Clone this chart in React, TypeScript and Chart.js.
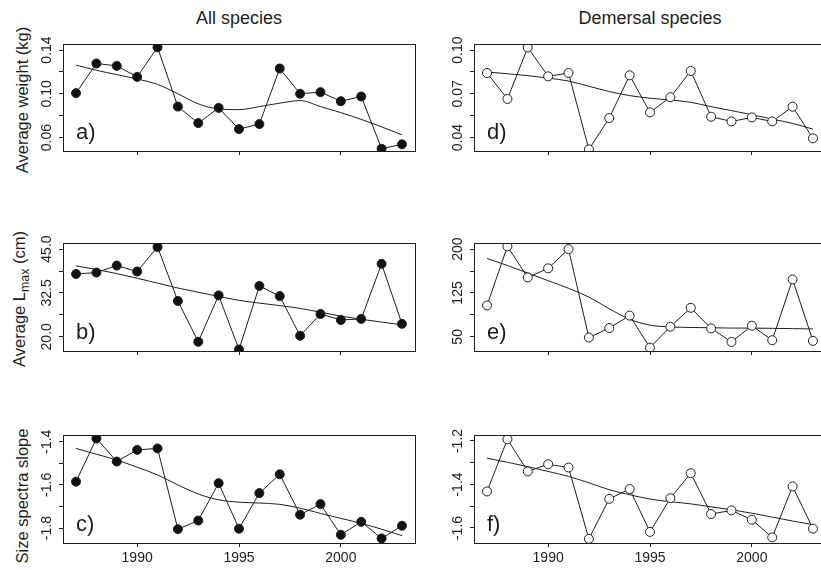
import React, { useEffect, useRef } from "react";
import { Chart, registerables } from "chart.js";

Chart.register(...registerables);

const FONT = '"Liberation Sans", Arial, Helvetica, sans-serif';
const INK = "#1e1e1e";

// ---------- data ----------
const years = [1987, 1988, 1989, 1990, 1991, 1992, 1993, 1994, 1995, 1996, 1997, 1998, 1999, 2000, 2001, 2002, 2003];
const xTickYears = [1990, 1995, 2000];

const allWeight = [0.1006, 0.1277, 0.1255, 0.1154, 0.1425, 0.0883, 0.0732, 0.0871, 0.0677, 0.0723, 0.1231, 0.1, 0.1015, 0.0932, 0.0975, 0.0498, 0.0538];
const allWeightSmooth = [0.1262, 0.1215, 0.1175, 0.1135, 0.1086, 0.1, 0.0908, 0.0862, 0.0855, 0.0883, 0.0914, 0.0938, 0.0883, 0.0828, 0.0766, 0.0698, 0.0625];
const demWeight = [0.0843, 0.0665, 0.1018, 0.082, 0.0843, 0.0319, 0.0534, 0.0827, 0.0573, 0.0677, 0.0857, 0.0543, 0.0511, 0.0538, 0.0511, 0.0612, 0.0395];
const demWeightSmooth = [0.085, 0.0838, 0.0825, 0.0808, 0.0788, 0.0752, 0.0716, 0.0688, 0.067, 0.0658, 0.0642, 0.0612, 0.0585, 0.0557, 0.0527, 0.0497, 0.0458];

const allLmax = [37.9, 38.3, 40.3, 38.6, 45.6, 30.2, 18.6, 31.8, 16.4, 34.5, 31.6, 20.3, 26.5, 24.8, 25.1, 40.8, 23.7];
const allLmaxSmooth = [40.2, 39.2, 38.0, 36.7, 35.3, 33.9, 32.7, 31.5, 30.4, 29.6, 28.9, 28.1, 27.0, 25.9, 25.0, 24.2, 23.4];
const demLmax = [103.7, 204.6, 151.5, 167.1, 200, 48.8, 65, 86.3, 31.5, 67.3, 99.6, 64.4, 41.3, 69, 44.2, 148.1, 43.1];
const demLmaxSmooth = [184, 172, 159, 146, 133, 118, 98, 80, 70, 67, 66, 65.5, 65, 65, 64.5, 64, 63.5];

const allSlope = [-1.585, -1.385, -1.492, -1.438, -1.431, -1.805, -1.765, -1.592, -1.803, -1.638, -1.551, -1.738, -1.689, -1.831, -1.771, -1.848, -1.789];
const allSlopeSmooth = [-1.431, -1.458, -1.485, -1.518, -1.554, -1.6, -1.642, -1.669, -1.68, -1.684, -1.69, -1.708, -1.732, -1.755, -1.778, -1.805, -1.835];
const demSlope = [-1.432, -1.192, -1.34, -1.307, -1.322, -1.65, -1.466, -1.421, -1.618, -1.463, -1.348, -1.536, -1.519, -1.562, -1.643, -1.409, -1.603];
const demSlopeSmooth = [-1.279, -1.298, -1.318, -1.34, -1.363, -1.392, -1.424, -1.447, -1.467, -1.479, -1.489, -1.503, -1.516, -1.532, -1.55, -1.568, -1.585];

// y tick values and labels
const weightAllTicks = [0.06, 0.08, 0.1, 0.12, 0.14];
const weightAllLabels = ["0.06", "", "0.10", "", "0.14"];
const weightDemTicks = [0.04, 0.055, 0.07, 0.085, 0.1];
const weightDemLabels = ["0.04", "", "0.07", "", "0.10"];
const lmaxAllTicks = [20, 26.25, 32.5, 38.75, 45];
const lmaxAllLabels = ["20.0", "", "32.5", "", "45.0"];
const lmaxDemTicks = [50, 87.5, 125, 162.5, 200];
const lmaxDemLabels = ["50", "", "125", "", "200"];
const slopeAllTicks = [-1.8, -1.7, -1.6, -1.5, -1.4];
const slopeAllLabels = ["-1.8", "", "-1.6", "", "-1.4"];
const slopeDemTicks = [-1.6, -1.5, -1.4, -1.3, -1.2];
const slopeDemLabels = ["-1.6", "", "-1.4", "", "-1.2"];

// ---------- layout ----------
const X_MIN = 1986.36;
const X_MAX = 2003.64;

type Spec = {
  key: string;
  left: number;
  top: number;
  width: number;
  height: number;
  yAxisW: number;
  padR: number;
  padT: number;
  xAxisH: number;
  values: number[];
  smooth: number[];
  yMin: number;
  yMax: number;
  ticks: number[];
  labels: string[];
  hollow: boolean;
  xLabels: boolean;
  letter: string;
};

const COL = [
  { left: 20, width: 410, yAxisW: 43, padR: 15 },
  { left: 430, width: 420, yAxisW: 44, padR: 24 },
];
const ROW = [
  { top: 34, height: 143 },
  { top: 233, height: 144 },
  { top: 425, height: 144 },
];

function mk(
  c: number,
  r: number,
  key: string,
  values: number[],
  smooth: number[],
  yMin: number,
  yMax: number,
  ticks: number[],
  labels: string[],
  letter: string
): Spec {
  return {
    key,
    left: COL[c].left,
    width: COL[c].width,
    yAxisW: COL[c].yAxisW,
    padR: COL[c].padR,
    top: ROW[r].top,
    height: ROW[r].height,
    padT: 10,
    xAxisH: 26,
    values,
    smooth,
    yMin,
    yMax,
    ticks,
    labels,
    hollow: c === 1,
    xLabels: r === 2,
    letter,
  };
}

const SPECS: Spec[] = [
  mk(0, 0, "a", allWeight, allWeightSmooth, 0.0477, 0.1455, weightAllTicks, weightAllLabels, "a)"),
  mk(1, 0, "d", demWeight, demWeightSmooth, 0.0308, 0.1042, weightDemTicks, weightDemLabels, "d)"),
  mk(0, 1, "b", allLmax, allLmaxSmooth, 15.96, 46.73, lmaxAllTicks, lmaxAllLabels, "b)"),
  mk(1, 1, "e", demLmax, demLmaxSmooth, 25.8, 210.4, lmaxDemTicks, lmaxDemLabels, "e)"),
  mk(0, 2, "c", allSlope, allSlopeSmooth, -1.869, -1.369, slopeAllTicks, slopeAllLabels, "c)"),
  mk(1, 2, "f", demSlope, demSlopeSmooth, -1.669, -1.1725, slopeDemTicks, slopeDemLabels, "f)"),
];

const framePlugin = {
  id: "frame",
  afterDraw(chart: any, _args: any, opts: any) {
    const { ctx, chartArea } = chart;
    const { left, top, right, bottom } = chartArea;
    ctx.save();
    ctx.strokeStyle = INK;
    ctx.lineWidth = 1;
    ctx.strokeRect(Math.round(left) + 0.5, Math.round(top) + 0.5, Math.round(right - left), Math.round(bottom - top));
    const ys = chart.scales.y;
    ctx.fillStyle = INK;
    ctx.font = `14px ${FONT}`;
    ctx.textAlign = "center";
    ctx.textBaseline = "middle";
    opts.ticks.forEach((v: number, i: number) => {
      const lab = opts.labels[i];
      if (!lab) return;
      const py = ys.getPixelForValue(v);
      ctx.save();
      ctx.translate(left - 15.5, py);
      ctx.rotate(-Math.PI / 2);
      ctx.fillText(lab, 0, 0);
      ctx.restore();
    });
    ctx.font = `22px ${FONT}`;
    ctx.textAlign = "left";
    ctx.textBaseline = "alphabetic";
    ctx.fillText(opts.letter, left + 13, bottom - 12);
    ctx.restore();
  },
};

function Panel({ s }: { s: Spec }) {
  const ref = useRef<HTMLCanvasElement | null>(null);
  useEffect(() => {
    if (!ref.current) return;
    const pts = years.map((y, i) => ({ x: y, y: s.values[i] }));
    const sm = years.map((y, i) => ({ x: y, y: s.smooth[i] }));
    const chart = new Chart(ref.current, {
      type: "line",
      data: {
        datasets: [
          {
            data: pts,
            borderColor: INK,
            borderWidth: 1,
            pointRadius: 4.5,
            pointHoverRadius: 4.5,
            pointBorderWidth: 1,
            pointBorderColor: INK,
            pointBackgroundColor: s.hollow ? "#ffffff" : "#111111",
            tension: 0,
            fill: false,
          },
          {
            data: sm,
            borderColor: INK,
            borderWidth: 1,
            pointRadius: 0,
            cubicInterpolationMode: "monotone",
            fill: false,
          },
        ],
      },
      options: {
        responsive: false,
        animation: false,
        events: [],
        layout: { padding: { left: 0, right: s.padR, top: s.padT, bottom: 0 } },
        plugins: {
          legend: { display: false },
          tooltip: { enabled: false },
          title: { display: false },
          frame: { ticks: s.ticks, labels: s.labels, letter: s.letter },
        } as any,
        scales: {
          x: {
            type: "linear",
            min: X_MIN,
            max: X_MAX,
            afterBuildTicks: (scale: any) => {
              scale.ticks = xTickYears.map((v) => ({ value: v }));
            },
            afterFit: (scale: any) => {
              scale.height = s.xAxisH;
            },
            grid: { drawOnChartArea: false, drawTicks: true, tickLength: 4, color: INK, tickColor: INK },
            border: { display: true, color: INK },
            ticks: {
              display: s.xLabels,
              padding: 3,
              color: INK,
              font: { family: FONT, size: 14 },
              maxRotation: 0,
              minRotation: 0,
              callback: (v: any) => String(v),
            },
          },
          y: {
            type: "linear",
            min: s.yMin,
            max: s.yMax,
            afterBuildTicks: (scale: any) => {
              scale.ticks = s.ticks.map((v) => ({ value: v }));
            },
            afterFit: (scale: any) => {
              scale.width = s.yAxisW;
            },
            grid: { drawOnChartArea: false, drawTicks: true, tickLength: 4, color: INK, tickColor: INK },
            border: { display: true, color: INK },
            ticks: { display: false },
          },
        },
      },
      plugins: [framePlugin],
    });
    return () => chart.destroy();
  }, [s]);
  return (
    <canvas
      ref={ref}
      width={s.width}
      height={s.height}
      style={{ position: "absolute", left: s.left, top: s.top, width: s.width, height: s.height }}
    />
  );
}

const yTitleStyle = (cy: number): React.CSSProperties => ({
  position: "absolute",
  left: 22,
  top: cy,
  transform: "translate(-50%, -50%) rotate(-90deg)",
  whiteSpace: "nowrap",
  fontFamily: FONT,
  fontSize: 16.5,
  lineHeight: "18px",
  color: INK,
});

const colTitleStyle = (cx: number): React.CSSProperties => ({
  position: "absolute",
  left: cx,
  top: 8,
  transform: "translateX(-50%)",
  fontFamily: FONT,
  fontSize: 18,
  lineHeight: "20px",
  color: INK,
  whiteSpace: "nowrap",
});

export default function App() {
  return (
    <div
      style={{
        position: "fixed",
        left: 0,
        top: 0,
        width: 821,
        height: 570,
        overflow: "hidden",
        background: "#ffffff",
      }}
    >
      <div style={colTitleStyle(239)}>All species</div>
      <div style={colTitleStyle(650)}>Demersal species</div>
      <div style={yTitleStyle(100)}>Average weight (kg)</div>
      <div style={yTitleStyle(299)}>
        Average L<sub style={{ fontSize: "75%", verticalAlign: "-0.3em" }}>max</sub> (cm)
      </div>
      <div style={yTitleStyle(496)}>Size spectra slope</div>
      {SPECS.map((s) => (
        <Panel key={s.key} s={s} />
      ))}
    </div>
  );
}
